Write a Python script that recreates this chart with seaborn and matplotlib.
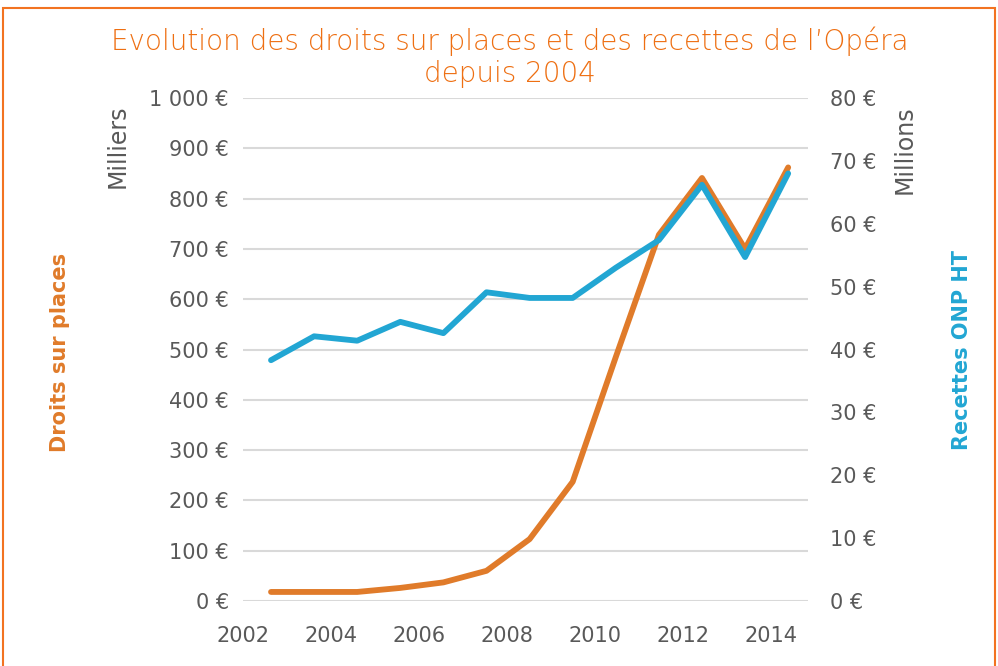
import numpy as np
import pandas as pd
import matplotlib.pyplot as plt
import seaborn as sns
from matplotlib.patches import Rectangle

# Données
annees = list(range(2002, 2015))
droits_places = [18, 18, 18, 26, 37, 60, 123, 237, 485, 728, 841, 700, 862]  # milliers €
recettes_onp = [38.3, 42.1, 41.4, 44.4, 42.6, 49.1, 48.2, 48.2, 53.0, 57.4, 66.2, 54.7, 68.0]  # millions €
labels_x = ["2002", "2004", "2006", "2008", "2010", "2012", "2014"]
ticks_gauche = [0, 100, 200, 300, 400, 500, 600, 700, 800, 900, 1000]
ticks_droite = [0, 10, 20, 30, 40, 50, 60, 70, 80]

orange = "#E07B2A"
bleu = "#22A6D3"
gris = "#595959"
titre_col = "#EE6F12"

df = pd.DataFrame({"annee": annees, "droits": droits_places, "recettes": recettes_onp})

sns.set_theme(style="white")
plt.rcParams["font.family"] = ["DejaVu Sans"]

fig = plt.figure(figsize=(9.98, 6.66), dpi=100)
ax = fig.add_axes([243 / 998, 65 / 666, 565 / 998, 503 / 666])

# quadrillage
for v in ticks_gauche:
    ax.axhline(v, color="#D9D9D9", lw=1.5, zorder=0)

sns.lineplot(data=df, x="annee", y="droits", ax=ax, color=orange, lw=4.2, zorder=3)
ax.set_ylim(0, 1000)
ax.set_xlim(2001.42, 2014.46)
ax.set_yticks(ticks_gauche)
ax.set_yticklabels([f"{v:,}".replace(",", " ") + " €" for v in ticks_gauche])
ax.tick_params(axis="y", length=0, pad=10, labelsize=15, labelcolor=gris)

# libellés des années, décalés comme sur l'original
pos_x = [2001.35 + 2.04 * i for i in range(len(labels_x))]
ax.set_xticks(pos_x)
ax.set_xticklabels(labels_x)
ax.tick_params(axis="x", length=0, pad=18, labelsize=15, labelcolor=gris)
ax.set_xlabel("")
ax.set_ylabel("")
for s in ax.spines.values():
    s.set_visible(False)

ax2 = ax.twinx()
sns.lineplot(data=df, x="annee", y="recettes", ax=ax2, color=bleu, lw=4.2, zorder=4)
ax2.set_ylim(0, 80)
ax2.set_yticks(ticks_droite)
ax2.set_yticklabels([f"{v} €" for v in ticks_droite])
ax2.tick_params(axis="y", length=0, pad=16, labelsize=15, labelcolor=gris)
ax2.set_ylabel("")
for s in ax2.spines.values():
    s.set_visible(False)

fig.text(118 / 998, 1 - 146 / 666, "Milliers", rotation=90, ha="center", va="center",
         color=gris, fontsize=17)
fig.text(60 / 998, 1 - 352 / 666, "Droits sur places", rotation=90, ha="center", va="center",
         color=orange, fontsize=15, fontweight="bold")
fig.text(905 / 998, 1 - 150 / 666, "Millions", rotation=90, ha="center", va="center",
         color=gris, fontsize=17)
fig.text(962 / 998, 1 - 350 / 666, "Recettes ONP HT", rotation=90, ha="center", va="center",
         color=bleu, fontsize=15, fontweight="bold")

fig.text(510 / 998, 1 - 57 / 666,
         "Evolution des droits sur places et des recettes de l’Opéra\ndepuis 2004",
         ha="center", va="center", color=titre_col, fontsize=20, fontweight="light",
         linespacing=1.2)

# cadre orange
fig.patches.append(Rectangle((3 / 998, -0.05), 0.994, 1 - 8 / 666 + 0.05,
                             transform=fig.transFigure, fill=False,
                             edgecolor="#F27321", lw=1.5))

fig.savefig("out.png", dpi=100)
